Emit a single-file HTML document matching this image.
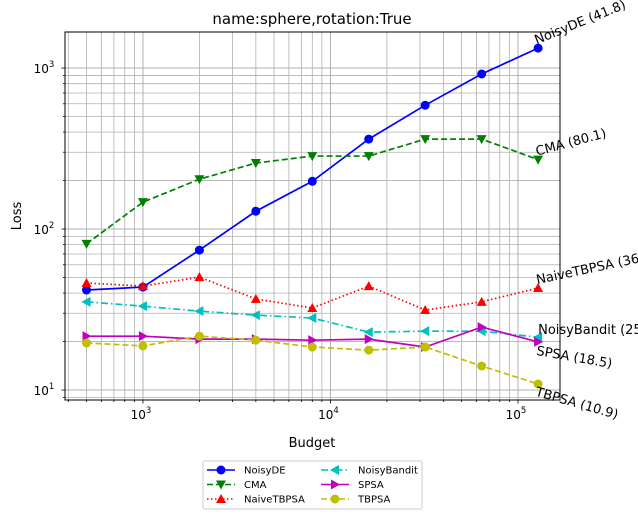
<!DOCTYPE html>
<html><head><meta charset="utf-8"><style>
html,body{margin:0;padding:0;background:#fff;}
svg{display:block;font-family:"DejaVu Sans","Liberation Sans",sans-serif;}
</style></head><body>
<svg id="chart" width="638" height="519" xmlns="http://www.w3.org/2000/svg"></svg>
<script>
const budgets = [500,1000,2000,4000,8000,16000,32000,64000,128000];
const seriesNames = ["NoisyDE","CMA","NaiveTBPSA","NoisyBandit","SPSA","TBPSA"];
const noisyDE = [41.8,43.6,74,129,198,362,588,919,1330];
const cma = [80.9,147,204,257,284,284,362,362,270];
const naiveTBPSA = [46.2,44.2,50.3,36.8,32.3,44.2,31.4,35.3,43.0];
const noisyBandit = [35.3,33.2,30.9,29.2,28.0,22.9,23.2,23.2,21.3];
const spsa = [21.6,21.6,20.7,20.7,20.4,20.7,18.5,24.6,19.9];
const tbpsa = [19.6,18.8,21.6,20.4,18.5,17.7,18.5,14.1,10.9];
const endLabels = ["NoisyDE (41.8)","CMA (80.1)","NaiveTBPSA (36.4)","NoisyBandit (25.5)","SPSA (18.5)","TBPSA (10.9)"];
const xTickVals = [1000,10000,100000];
const xTickLabels = ["10","10","10"];
const xTickExps = ["3","4","5"];
const yTickVals = [10,100,1000];
const yTickExps = ["1","2","3"];

const NS="http://www.w3.org/2000/svg";
const svg=document.getElementById('chart');
const L=65,R=560,T=32,B=400;
const xmin=Math.log10(384),xmax=Math.log10(167500);
const ymin=Math.log10(8.67),ymax=Math.log10(1675);
function X(v){return L+(Math.log10(v)-xmin)/(xmax-xmin)*(R-L);}
function Y(v){return B-(Math.log10(v)-ymin)/(ymax-ymin)*(B-T);}
function el(tag,attrs,parent){const e=document.createElementNS(NS,tag);for(const k in attrs)e.setAttribute(k,attrs[k]);(parent||svg).appendChild(e);return e;}

const grid=el('g',{});


for(let d=100;d<=100000;d*=10){for(let m=1;m<10;m++){const v=d*m;const x=X(v);if(x<L||x>R)continue;
 el('line',{x1:x,x2:x,y1:T,y2:B,stroke:'#b0b0b0','stroke-width':m==1?1:0.8},grid);
 el('line',{x1:x,x2:x,y1:B,y2:B+(m==1?3.5:2),stroke:'#000','stroke-width':0.8},grid);}}
for(let d=1;d<=1000;d*=10){for(let m=1;m<10;m++){const v=d*m;const y=Y(v);if(y<T||y>B)continue;
 el('line',{x1:L,x2:R,y1:y,y2:y,stroke:'#b0b0b0','stroke-width':m==1?1:0.8},grid);
 el('line',{x1:L,x2:L-(m==1?3.5:2),y1:y,y2:y,stroke:'#000','stroke-width':0.8},grid);}}

xTickVals.forEach((v,i)=>{const t=el('text',{x:X(v)-2,y:B+19,'font-size':12,'text-anchor':'middle'});
 
 
 t.innerHTML=xTickLabels[i]+'<tspan dy="-6" font-size="8.5">'+xTickExps[i]+'</tspan>';});
yTickVals.forEach((v,i)=>{const t=el('text',{x:L-21,y:Y(v)+5,'font-size':12,'text-anchor':'middle'});
 
 
 t.innerHTML='10<tspan dy="-6" font-size="8.5">'+yTickExps[i]+'</tspan>';});

const styles=[
 {c:'#0000ff',dash:'',m:'circle',data:noisyDE,rot:-22,dy:-4},
 {c:'#008000',dash:'6,3',m:'tdown',data:cma,rot:-15,dy:-4},
 {c:'#ff0000',dash:'1.5,2.5',m:'tup',data:naiveTBPSA,rot:-12,dy:-4},
 {c:'#00bfbf',dash:'7,3,1.5,3',m:'tleft',data:noisyBandit,rot:0,dy:-3},
 {c:'#bf00bf',dash:'',m:'tright',data:spsa,rot:10,dy:13},
 {c:'#bfbf00',dash:'6,3',m:'circle',data:tbpsa,rot:16,dy:12}];
function marker(g,type,x,y,c){const s=5;let p;
 if(type=='circle')return el('circle',{cx:x,cy:y,r:4.5,fill:c},g);
 if(type=='tdown')p=[[x-s,y-s*0.8],[x+s,y-s*0.8],[x,y+s]];
 if(type=='tup')p=[[x-s,y+s*0.8],[x+s,y+s*0.8],[x,y-s]];
 if(type=='tleft')p=[[x+s*0.8,y-s],[x+s*0.8,y+s],[x-s,y]];
 if(type=='tright')p=[[x-s*0.8,y-s],[x-s*0.8,y+s],[x+s,y]];
 return el('polygon',{points:p.map(q=>q.join(',')).join(' '),fill:c},g);}
styles.forEach((s,i)=>{const g=el('g',{});
 
 
 const pts=budgets.map((b,j)=>[X(b),Y(s.data[j])]);
 el('polyline',{points:pts.map(p=>p.join(',')).join(' '),fill:'none',stroke:s.c,'stroke-width':1.7,'stroke-dasharray':s.dash},g);
 pts.forEach(p=>marker(g,s.m,p[0],p[1],s.c));
 const lp=pts[pts.length-1];
 const t=el('text',{x:lp[0],y:lp[1]+s.dy,'font-size':13,transform:`rotate(${s.rot} ${lp[0]} ${lp[1]})`},g);
 
 
 t.textContent=endLabels[i];});

const frame=el('rect',{x:L,y:T,width:R-L,height:B-T,fill:'none',stroke:'#000','stroke-width':1});


const title=el('text',{x:312,y:24,'font-size':15,'text-anchor':'middle'});


title.textContent='name:sphere,rotation:True';
const xt=el('text',{x:312,y:447,'font-size':13,'text-anchor':'middle'});


xt.textContent='Budget';
const yt=el('text',{x:21,y:216,'font-size':13,'text-anchor':'middle',transform:'rotate(-90 21 216)'});


yt.textContent='Loss';

const lg=el('g',{});


el('rect',{x:203,y:461,width:219,height:48,rx:2,fill:'#fff',stroke:'#ccc'},lg);
styles.forEach((s,i)=>{const col=Math.floor(i/3),row=i%3;const x0=col?321:207,y0=470+row*14.5;
 const e=el('g',{},lg);
 
 
 el('line',{x1:x0,x2:x0+28,y1:y0,y2:y0,stroke:s.c,'stroke-width':1.5,'stroke-dasharray':s.dash},e);
 marker(e,s.m,x0+14,y0,s.c);
 const t=el('text',{x:x0+37,y:y0+3.5,'font-size':10},e);t.textContent=seriesNames[i];});
</script>
</body></html>
